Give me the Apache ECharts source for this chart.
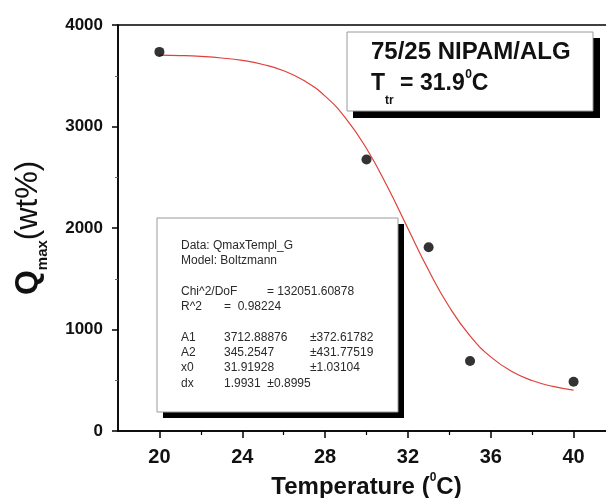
<!DOCTYPE html>
<html>
<head>
<meta charset="utf-8">
<script src="https://cdn.jsdelivr.net/npm/echarts@6/dist/echarts.min.js"></script>
<style>
html,body{margin:0;padding:0;background:#fff;}
#chart{width:606px;height:498px;}
</style>
</head>
<body>
<div id="chart"></div>
<script>
// measured data points
const tempC = [20, 30, 33, 35, 40];
const qmax = [3735, 2675, 1810, 690, 485];
// fitted (Boltzmann) curve
const fitT = [20, 21, 22, 23, 24, 25, 26, 27, 28, 29, 30, 31, 32, 33, 34, 35, 36, 37, 38, 39, 40];
const fitQ = [3704, 3699, 3690, 3675, 3651, 3611, 3549, 3450, 3299, 3081, 2783, 2411, 1995, 1583, 1222, 937, 730, 589, 497, 439, 403];
// axis ticks
const xMajorTicks = [20, 24, 28, 32, 36, 40];
const xMinorTicks = [22, 26, 30, 34, 38];
const yTicks = [0, 1000, 2000, 3000, 4000];
// text
const titleLine1 = '75/25 NIPAM/ALG';
const ttrValue = '31.9';
const statHeader = ['Data: QmaxTempl_G', 'Model: Boltzmann'];
const chiLabel = 'Chi^2/DoF', chiValue = '= 132051.60878';
const r2Label = 'R^2', r2Value = '=  0.98224';
const paramNames = ['A1', 'A2', 'x0', 'dx'];
const paramValues = ['3712.88876', '345.2547', '31.91928', '1.9931  \u00b10.8995'];
const paramErrors = ['\u00b1372.61782', '\u00b1431.77519', '\u00b11.03104', ''];

const FONT = '"Liberation Sans", Arial, sans-serif';
const statFont = '12px ' + FONT;
const statColor = '#2a2a2a';
const INK = '#111';

const chart = echarts.init(document.getElementById('chart'), null, {renderer: 'canvas'});
const mctx = document.createElement('canvas').getContext('2d');

const graphics = [];
// stats box
graphics.push({type: 'rect', shape: {x: 163, y: 224, width: 241, height: 194}, style: {fill: '#000'}, z: 5});
graphics.push({type: 'rect', shape: {x: 157, y: 218, width: 241, height: 194}, style: {fill: '#fff', stroke: '#9a9a9a', lineWidth: 1}, z: 6});
function stxt(t, x, y) {
  graphics.push({type: 'text', x: x, y: y, z: 7, style: {text: t, font: statFont, fill: statColor, verticalAlign: 'middle', align: 'left'}});
}
stxt(statHeader[0], 181, 246);
stxt(statHeader[1], 181, 261);
stxt(chiLabel, 181, 292); stxt(chiValue, 267, 292);
stxt(r2Label, 181, 307); stxt(r2Value, 224, 307);
const rowY = [338, 353, 368, 384];
paramNames.forEach((n, i) => {
  stxt(n, 181, rowY[i]);
  stxt(paramValues[i], 224, rowY[i]);
  if (paramErrors[i]) stxt(paramErrors[i], 310, rowY[i]);
});
// title box
graphics.push({type: 'rect', shape: {x: 353, y: 38, width: 247, height: 80}, style: {fill: '#000'}, z: 5});
graphics.push({type: 'rect', shape: {x: 347, y: 32, width: 246, height: 79}, style: {fill: '#fff', stroke: '#9a9a9a', lineWidth: 1}, z: 6});
graphics.push({type: 'text', x: 371, y: 52, z: 7, style: {text: titleLine1, font: 'bold 24px ' + FONT, fill: INK, verticalAlign: 'middle', align: 'left'}});
// T_tr = 31.9^0C as measured segments
function seq(segs, x, y) {
  segs.forEach(s => {
    const font = 'bold ' + s.size + 'px ' + FONT;
    mctx.font = font;
    const w = mctx.measureText(s.t).width;
    graphics.push({type: 'text', x: x, y: y + s.dy, z: 7, style: {text: s.t, font: font, fill: INK, verticalAlign: 'middle', align: 'left'}});
    x += w + (s.gap || 0);
  });
}
seq([
  {t: 'T', size: 23, dy: 0},
  {t: 'tr', size: 12, dy: 17},
  {t: ' = ' + ttrValue, size: 23, dy: 0, gap: 0.5},
  {t: '0', size: 12, dy: -9},
  {t: 'C', size: 23, dy: 0}
], 371, 84);
// y axis title
graphics.push({type: 'text', x: 28, y: 228, rotation: Math.PI / 2, z: 7, style: {
  text: '{q|Q}{s|max}{p|(wt%)}', align: 'center', verticalAlign: 'middle',
  rich: {
    q: {fontFamily: FONT, fontWeight: 'bold', fontSize: 32, lineHeight: 44, verticalAlign: 'middle', fill: INK, color: INK},
    s: {fontFamily: FONT, fontWeight: 'bold', fontSize: 15, lineHeight: 14, verticalAlign: 'bottom', fill: INK, color: INK},
    p: {fontFamily: FONT, fontSize: 31, lineHeight: 44, verticalAlign: 'middle', fill: INK, color: INK}
  }
}});

const option = {
  animation: false,
  backgroundColor: '#fff',
  grid: {left: 118, top: 25, width: 497, height: 406, containLabel: false, outerBoundsMode: 'none',
    show: true, borderColor: '#000', borderWidth: 1.5, backgroundColor: 'transparent'},
  xAxis: [{
    type: 'value', min: 18, max: 42, position: 'bottom',
    axisLine: {show: true, onZero: false, lineStyle: {color: '#000', width: 1.5}},
    axisTick: {show: true, inside: false, length: 7, customValues: xMajorTicks, lineStyle: {color: '#000', width: 1.5}},
    axisLabel: {show: true, customValues: xMajorTicks, margin: 16, color: INK, fontFamily: FONT, fontWeight: 'bold', fontSize: 20},
    splitLine: {show: false},
    name: '{a|Temperature (}{p|0}{a|C)}', nameLocation: 'middle', nameGap: 40,
    nameTextStyle: {rich: {
      a: {fontFamily: FONT, fontWeight: 'bold', fontSize: 24, lineHeight: 30, verticalAlign: 'middle', color: INK},
      p: {fontFamily: FONT, fontWeight: 'bold', fontSize: 12, lineHeight: 22, verticalAlign: 'top', color: INK}
    }}
  }, {
    type: 'value', min: 18, max: 42, position: 'top', offset: -406,
    axisLine: {show: false},
    axisTick: {show: true, inside: true, length: 4, customValues: xMinorTicks, lineStyle: {color: '#000', width: 1.2}},
    axisLabel: {show: false},
    splitLine: {show: false}
  }],
  yAxis: {
    type: 'value', min: yTicks[0], max: yTicks[yTicks.length - 1], interval: 1000,
    axisLine: {show: true, onZero: false, lineStyle: {color: '#000', width: 1.5}},
    axisTick: {show: true, inside: false, length: 6, lineStyle: {color: '#000', width: 1.5}},
    minorTick: {show: true, splitNumber: 2, length: 3, lineStyle: {color: '#666', width: 1}},
    axisLabel: {margin: 15, color: INK, fontFamily: FONT, fontWeight: 'bold', fontSize: 17, formatter: v => String(v)},
    splitLine: {show: false}
  },
  graphic: graphics,
  series: [{
    type: 'line', xAxisIndex: 0, data: fitT.map((t, i) => [t, fitQ[i]]), smooth: true, symbol: 'none',
    lineStyle: {color: '#e0403a', width: 1.2}, z: 2
  }, {
    type: 'scatter', xAxisIndex: 0, data: tempC.map((t, i) => [t, qmax[i]]), symbol: 'circle', symbolSize: 10,
    itemStyle: {color: '#000'}, z: 3
  }]
};
chart.setOption(option);
</script>
</body>
</html>
